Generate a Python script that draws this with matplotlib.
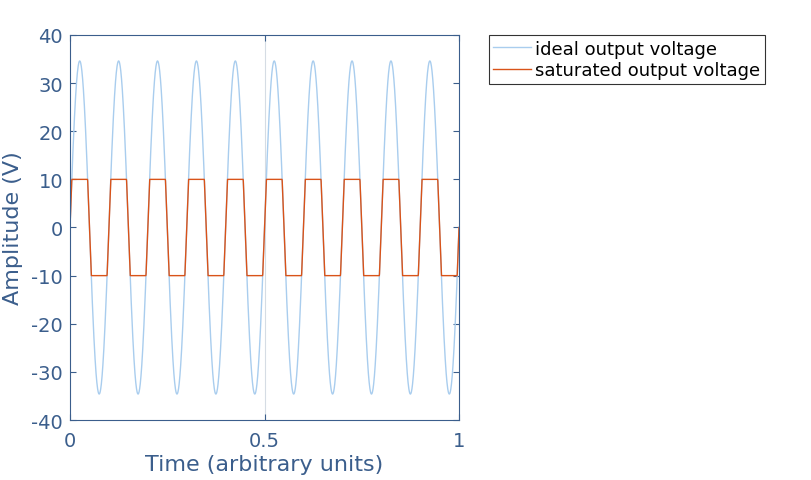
import numpy as np
import matplotlib.pyplot as plt

# values
amplitude = 34.6          # peak of the ideal output (V)
cycles = 10               # full periods across the time axis
rail = 10                 # saturation level (V)
x_ticks = [0, 0.5, 1]
y_ticks = [-40, -30, -20, -10, 0, 10, 20, 30, 40]
labels = ['ideal output voltage', 'saturated output voltage']

t = np.linspace(0, 1, 2001)
ideal = amplitude * np.sin(2 * np.pi * cycles * t)
saturated = np.clip(ideal, -rail, rail)

plt.rcParams['axes.unicode_minus'] = False
axis_color = '#3b5e8c'

fig = plt.figure(figsize=(8.12, 4.81), dpi=100)
ax = fig.add_axes([0.0862, 0.1247, 0.4791, 0.8005])

ax.axvline(0.5, color='#d5dce4', linewidth=0.8, zorder=0)
l1, = ax.plot(t, ideal, color='#a9cdee', linewidth=1.0)
l2, = ax.plot(t, saturated, color='#d95319', linewidth=1.0)

ax.set_xlim(0, 1)
ax.set_ylim(-40, 40)
ax.set_xticks(x_ticks)
ax.set_xticklabels(['0', '0.5', '1'])
ax.set_yticks(y_ticks)
ax.tick_params(direction='in', colors=axis_color, labelsize=14, length=4,
               right=True, top=True, labelcolor=axis_color, pad=5)
ax.tick_params(axis='x', pad=8)
for s in ax.spines.values():
    s.set_color(axis_color)
ax.set_xlabel('Time (arbitrary units)', color=axis_color, fontsize=16, labelpad=3)
ax.set_ylabel('Amplitude (V)', color=axis_color, fontsize=16, labelpad=6)

leg = fig.legend([l1, l2], labels, loc='upper left',
                 bbox_to_anchor=(0.602, 0.925), fontsize=13, frameon=True,
                 fancybox=False, edgecolor='black', handlelength=2.1,
                 handletextpad=0.2, borderpad=0.25, labelspacing=0.2,
                 borderaxespad=0)
leg.get_frame().set_linewidth(0.8)

fig.savefig('out.png', dpi=100)
